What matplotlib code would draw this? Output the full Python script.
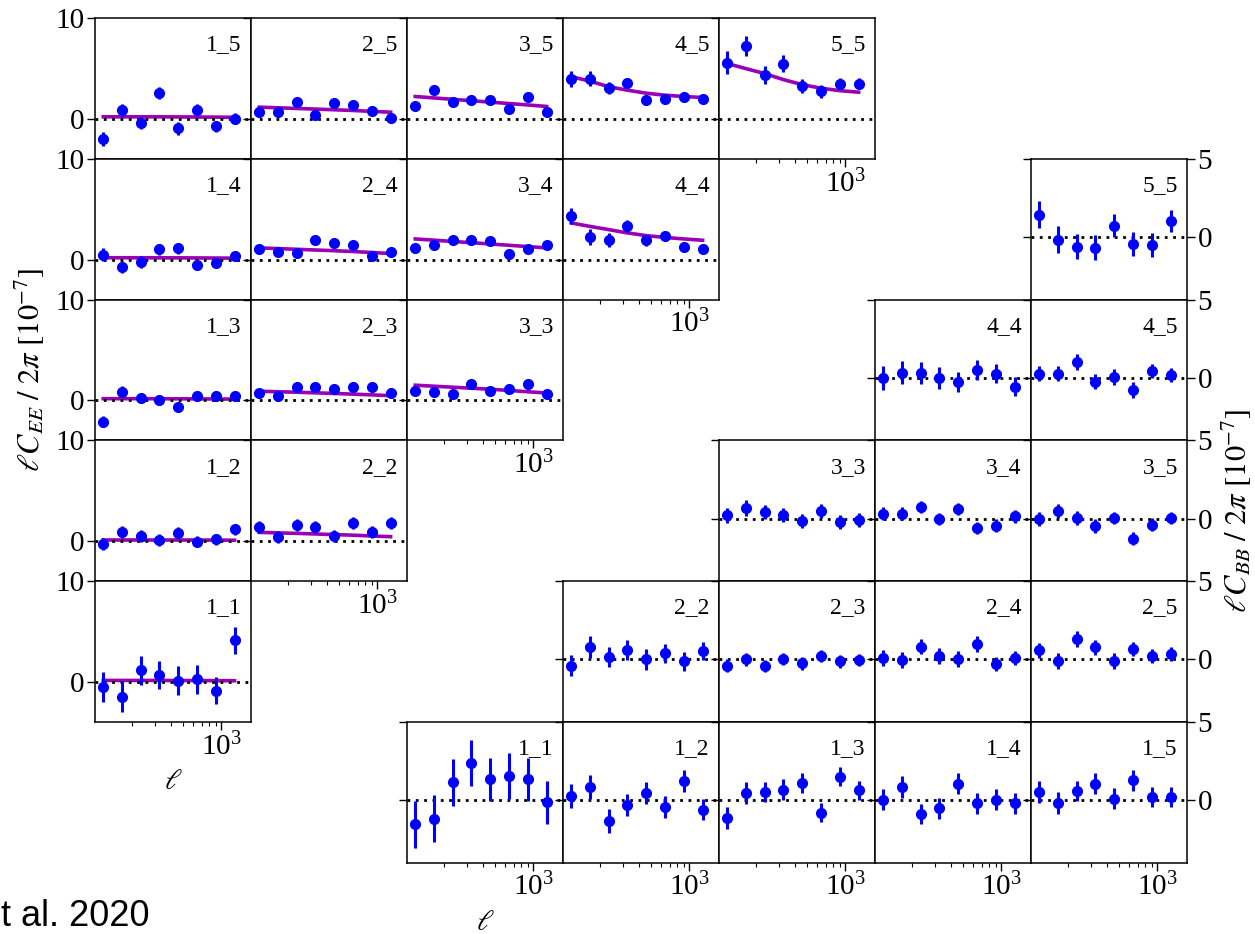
import numpy as np
import matplotlib
matplotlib.use("Agg")
import matplotlib.pyplot as plt
from matplotlib.ticker import LogLocator, NullFormatter

plt.rcParams['font.family'] = ['Liberation Serif', 'DejaVu Serif']
plt.rcParams['mathtext.fontset'] = 'stix'

# ---------------- data ----------------
ell = [118, 165, 232, 326, 458, 643, 904, 1270]

# EE measured values, errors and model (units 1e-7)
EE_1_5 = [-2.0, 0.83, -0.43, 2.55, -0.96, 0.9, -0.76, 0.03]
EE_1_5_err = [0.66, 0.6, 0.6, 0.6, 0.6, 0.6, 0.55, 0.55]
EE_1_5_mod = [0.2, 0.2, 0.2, 0.2, 0.19, 0.18, 0.17, 0.15]

EE_2_5 = [0.63, 0.63, 1.66, 0.4, 1.56, 1.39, 0.8, 0.07]
EE_2_5_err = [0.35, 0.35, 0.35, 0.3, 0.3, 0.3, 0.3, 0.3]
EE_2_5_mod = [1.16, 1.1, 1.03, 0.97, 0.9, 0.83, 0.74, 0.66]

EE_3_5 = [1.32, 2.88, 1.66, 1.89, 1.89, 0.96, 2.15, 0.63]
EE_3_5_err = [0.4, 0.4, 0.35, 0.3, 0.3, 0.3, 0.3, 0.3]
EE_3_5_mod = [2.22, 2.08, 1.94, 1.8, 1.66, 1.52, 1.38, 1.23]

EE_4_5 = [3.94, 3.97, 3.05, 3.54, 1.89, 1.99, 2.22, 1.95]
EE_4_5_err = [0.8, 0.75, 0.6, 0.5, 0.4, 0.4, 0.4, 0.4]
EE_4_5_mod = [4.2, 3.75, 3.2, 2.85, 2.55, 2.35, 2.22, 2.12]

EE_5_5 = [5.6, 7.2, 4.37, 5.5, 3.28, 2.72, 3.48, 3.48]
EE_5_5_err = [1.1, 1.0, 0.9, 0.8, 0.7, 0.6, 0.55, 0.55]
EE_5_5_mod = [5.5, 5.0, 4.5, 3.9, 3.4, 3.05, 2.8, 2.65]

EE_1_4 = [0.5, -0.76, -0.23, 1.0, 1.1, -0.56, -0.33, 0.33]
EE_1_4_err = [0.6, 0.6, 0.6, 0.55, 0.55, 0.5, 0.5, 0.5]
EE_1_4_mod = [0.18, 0.18, 0.18, 0.17, 0.17, 0.16, 0.15, 0.14]

EE_2_4 = [1.06, 0.76, 0.66, 1.92, 1.69, 1.49, 0.33, 0.73]
EE_2_4_err = [0.35, 0.35, 0.3, 0.3, 0.3, 0.3, 0.3, 0.3]
EE_2_4_mod = [1.16, 1.09, 1.02, 0.95, 0.88, 0.8, 0.7, 0.6]

EE_3_4 = [1.16, 1.49, 1.92, 1.92, 1.82, 0.6, 1.06, 1.42]
EE_3_4_err = [0.3, 0.3, 0.3, 0.3, 0.3, 0.3, 0.3, 0.3]
EE_3_4_mod = [2.05, 1.93, 1.8, 1.68, 1.55, 1.42, 1.29, 1.16]

EE_4_4 = [4.3, 2.25, 1.99, 3.31, 1.92, 2.32, 1.26, 1.06]
EE_4_4_err = [0.8, 0.8, 0.7, 0.6, 0.55, 0.5, 0.45, 0.45]
EE_4_4_mod = [3.64, 3.3, 2.98, 2.65, 2.38, 2.2, 2.05, 1.92]

EE_1_3 = [-2.15, 0.83, 0.23, 0.07, -0.66, 0.46, 0.46, 0.46]
EE_1_3_err = [0.55, 0.55, 0.5, 0.5, 0.5, 0.45, 0.45, 0.45]
EE_1_3_mod = [0.16, 0.16, 0.16, 0.15, 0.15, 0.14, 0.13, 0.12]

EE_2_3 = [0.76, 0.4, 1.32, 1.32, 1.16, 1.32, 1.29, 0.76]
EE_2_3_err = [0.3, 0.3, 0.3, 0.3, 0.3, 0.3, 0.3, 0.3]
EE_2_3_mod = [0.9, 0.85, 0.8, 0.74, 0.68, 0.61, 0.54, 0.46]

EE_3_3 = [0.9, 0.8, 0.6, 1.6, 0.9, 1.1, 1.6, 0.6]
EE_3_3_err = [0.35, 0.35, 0.3, 0.3, 0.3, 0.3, 0.3, 0.3]
EE_3_3_mod = [1.5, 1.4, 1.3, 1.2, 1.1, 0.98, 0.85, 0.72]

EE_1_2 = [-0.33, 0.86, 0.5, 0.1, 0.76, -0.07, 0.17, 1.16]
EE_1_2_err = [0.6, 0.6, 0.6, 0.6, 0.6, 0.55, 0.55, 0.55]
EE_1_2_mod = [0.1, 0.1, 0.1, 0.1, 0.1, 0.1, 0.09, 0.08]

EE_2_2 = [1.42, 0.43, 1.59, 1.36, 0.53, 1.75, 0.86, 1.75]
EE_2_2_err = [0.6, 0.6, 0.6, 0.6, 0.6, 0.6, 0.6, 0.6]
EE_2_2_mod = [0.86, 0.81, 0.76, 0.7, 0.64, 0.58, 0.5, 0.43]

EE_1_1 = [-0.56, -1.49, 1.16, 0.66, 0.1, 0.23, -0.89, 4.14]
EE_1_1_err = [1.5, 1.55, 1.45, 1.4, 1.45, 1.4, 1.35, 1.35]
EE_1_1_mod = [0.13, 0.13, 0.13, 0.13, 0.12, 0.12, 0.11, 0.1]

# BB measured values and errors (units 1e-7)
BB_5_5 = [1.44, -0.15, -0.61, -0.66, 0.74, -0.42, -0.51, 1.06]
BB_5_5_err = [0.85, 0.85, 0.8, 0.8, 0.75, 0.75, 0.75, 0.7]

BB_4_4 = [0.0, 0.34, 0.34, 0.0, -0.25, 0.51, 0.28, -0.57]
BB_4_4_err = [0.75, 0.75, 0.7, 0.7, 0.65, 0.65, 0.6, 0.6]
BB_4_5 = [0.28, 0.28, 1.02, -0.23, 0.08, -0.76, 0.44, 0.17]
BB_4_5_err = [0.5, 0.5, 0.5, 0.5, 0.5, 0.5, 0.45, 0.45]

BB_3_3 = [0.21, 0.68, 0.43, 0.26, -0.17, 0.51, -0.23, -0.11]
BB_3_3_err = [0.5, 0.5, 0.45, 0.45, 0.45, 0.45, 0.45, 0.45]
BB_3_4 = [0.32, 0.32, 0.74, -0.02, 0.62, -0.6, -0.45, 0.15]
BB_3_4_err = [0.4, 0.4, 0.4, 0.4, 0.4, 0.4, 0.4, 0.4]
BB_3_5 = [0.0, 0.47, 0.04, -0.49, 0.04, -1.28, -0.38, 0.04]
BB_3_5_err = [0.45, 0.45, 0.45, 0.45, 0.4, 0.4, 0.4, 0.4]

BB_2_2 = [-0.39, 0.79, 0.15, 0.6, 0.0, 0.39, -0.11, 0.54]
BB_2_2_err = [0.7, 0.7, 0.65, 0.65, 0.65, 0.6, 0.6, 0.6]
BB_2_3 = [-0.39, 0.0, -0.43, 0.04, -0.26, 0.21, -0.13, -0.04]
BB_2_3_err = [0.4, 0.4, 0.4, 0.4, 0.4, 0.4, 0.4, 0.4]
BB_2_4 = [0.09, -0.04, 0.82, 0.21, 0.04, 0.97, -0.28, 0.11]
BB_2_4_err = [0.5, 0.5, 0.5, 0.5, 0.5, 0.5, 0.45, 0.45]
BB_2_5 = [0.58, -0.11, 1.29, 0.77, -0.11, 0.69, 0.21, 0.36]
BB_2_5_err = [0.5, 0.5, 0.5, 0.5, 0.5, 0.45, 0.45, 0.45]

BB_1_1 = [-1.55, -1.19, 1.15, 2.38, 1.32, 1.53, 1.32, -0.13]
BB_1_1_err = [1.5, 1.5, 1.5, 1.47, 1.4, 1.47, 1.38, 1.38]
BB_1_2 = [0.26, 0.83, -1.34, -0.32, 0.45, -0.43, 1.21, -0.6]
BB_1_2_err = [0.75, 0.75, 0.75, 0.7, 0.7, 0.7, 0.7, 0.7]
BB_1_3 = [-1.13, 0.43, 0.51, 0.68, 1.1, -0.81, 1.49, 0.64]
BB_1_3_err = [0.7, 0.7, 0.65, 0.65, 0.65, 0.6, 0.6, 0.6]
BB_1_4 = [0.04, 0.85, -0.87, -0.53, 1.06, -0.21, 0.04, -0.21]
BB_1_4_err = [0.7, 0.7, 0.65, 0.65, 0.65, 0.65, 0.65, 0.65]
BB_1_5 = [0.53, -0.17, 0.57, 1.06, 0.1, 1.26, 0.19, 0.19]
BB_1_5_err = [0.7, 0.7, 0.65, 0.65, 0.65, 0.65, 0.65, 0.65]

EE_panels = {
    '1_5': (EE_1_5, EE_1_5_err, EE_1_5_mod), '2_5': (EE_2_5, EE_2_5_err, EE_2_5_mod),
    '3_5': (EE_3_5, EE_3_5_err, EE_3_5_mod), '4_5': (EE_4_5, EE_4_5_err, EE_4_5_mod),
    '5_5': (EE_5_5, EE_5_5_err, EE_5_5_mod), '1_4': (EE_1_4, EE_1_4_err, EE_1_4_mod),
    '2_4': (EE_2_4, EE_2_4_err, EE_2_4_mod), '3_4': (EE_3_4, EE_3_4_err, EE_3_4_mod),
    '4_4': (EE_4_4, EE_4_4_err, EE_4_4_mod), '1_3': (EE_1_3, EE_1_3_err, EE_1_3_mod),
    '2_3': (EE_2_3, EE_2_3_err, EE_2_3_mod), '3_3': (EE_3_3, EE_3_3_err, EE_3_3_mod),
    '1_2': (EE_1_2, EE_1_2_err, EE_1_2_mod), '2_2': (EE_2_2, EE_2_2_err, EE_2_2_mod),
    '1_1': (EE_1_1, EE_1_1_err, EE_1_1_mod),
}
BB_panels = {
    '5_5': (BB_5_5, BB_5_5_err), '4_4': (BB_4_4, BB_4_4_err), '4_5': (BB_4_5, BB_4_5_err),
    '3_3': (BB_3_3, BB_3_3_err), '3_4': (BB_3_4, BB_3_4_err), '3_5': (BB_3_5, BB_3_5_err),
    '2_2': (BB_2_2, BB_2_2_err), '2_3': (BB_2_3, BB_2_3_err), '2_4': (BB_2_4, BB_2_4_err),
    '2_5': (BB_2_5, BB_2_5_err), '1_1': (BB_1_1, BB_1_1_err), '1_2': (BB_1_2, BB_1_2_err),
    '1_3': (BB_1_3, BB_1_3_err), '1_4': (BB_1_4, BB_1_4_err), '1_5': (BB_1_5, BB_1_5_err),
}

# ---------------- layout ----------------
W, H = 1255, 934
fig = plt.figure(figsize=(W / 100, H / 100), dpi=100)
X0, Y0, CW, CH = 95.2, 18.3, 156.0, 140.73
TICK_FS = 21
LAB_FS = 17
YLAB_FS = 22
BLUE = '#0000ff'
MAG = '#9a00b4'


def cell_axes(r, c):
    left = (X0 + CW * c) / W
    bottom = 1 - (Y0 + CH * (r + 1)) / H
    return fig.add_axes([left, bottom, CW / W, CH / H])


def style(ax, label, ylim, yticks, show_x, labels_left, labels_right=False):
    ax.set_xscale('log')
    ax.set_xlim(102, 1715)
    ax.set_ylim(*ylim)
    ax.set_yticks(yticks)
    ax.xaxis.set_major_locator(LogLocator(base=10))
    ax.xaxis.set_minor_locator(LogLocator(base=10, subs=np.arange(2, 10)))
    ax.xaxis.set_minor_formatter(NullFormatter())
    for s in ax.spines.values():
        s.set_linewidth(1.1)
    ax.tick_params(axis='both', which='major', direction='out', length=5.5, width=1.0,
                   labelsize=TICK_FS, pad=2)
    ax.tick_params(axis='x', which='minor', direction='out', length=3, width=0.8)
    if not show_x:
        ax.tick_params(axis='x', which='both', bottom=False, labelbottom=False)
    ax.tick_params(axis='y', left=True, labelleft=labels_left,
                   right=labels_right, labelright=labels_right)
    ax.text(0.94, 0.81, label, transform=ax.transAxes, ha='right', va='center',
            fontsize=LAB_FS)


# EE triangle: rows 0-4, cols 0-4
for r in range(5):
    j = 5 - r
    for i in range(1, j + 1):
        key = f'{i}_{j}'
        vals, errs, mod = EE_panels[key]
        ax = cell_axes(r, i - 1)
        ax.axhline(0, color='black', ls=(0, (1, 2)), lw=2.0, zorder=2.5)
        ax.plot(ell, mod, color=MAG, lw=2.6, zorder=2)
        ax.errorbar(ell, vals, yerr=errs, fmt='o', color=BLUE, ms=7, elinewidth=2.2,
                    capsize=0, zorder=3)
        style(ax, key, (-4, 10), [0, 10], show_x=(i == j), labels_left=(i == 1))
        if r == 4:
            ax.set_xlabel(r'$\ell$', fontsize=TICK_FS, labelpad=6)

# BB triangle: rows 1-5, cols 2-6
for r in range(1, 6):
    i = 6 - r
    for j in range(i, 6):
        key = f'{i}_{j}'
        vals, errs = BB_panels[key]
        ax = cell_axes(r, j + 1)
        ax.axhline(0, color='black', ls=(0, (1, 2)), lw=2.0, zorder=2.5)
        ax.errorbar(ell, vals, yerr=errs, fmt='o', color=BLUE, ms=7, elinewidth=2.2,
                    capsize=0, zorder=3)
        style(ax, key, (-4, 5), [0, 5], show_x=(r == 5), labels_left=False,
              labels_right=(j == 5))
        if r == 5 and j == 1:
            ax.set_xlabel(r'$\ell$', fontsize=TICK_FS, labelpad=6)

fig.text(30 / W, 1 - 370 / H, r'$\ell C_{EE}\ /\ 2\pi\ [10^{-7}]$', rotation=90,
         ha='center', va='center', fontsize=YLAB_FS)
fig.text(1237 / W, 1 - 511 / H, r'$\ell C_{BB}\ /\ 2\pi\ [10^{-7}]$', rotation=90,
         ha='center', va='center', fontsize=YLAB_FS)
fig.text(1 / W, 0.5 / H, 't al. 2020', ha='left', va='bottom', fontsize=26,
         family=['Liberation Sans', 'DejaVu Sans'])

fig.savefig('out.png', dpi=100)
